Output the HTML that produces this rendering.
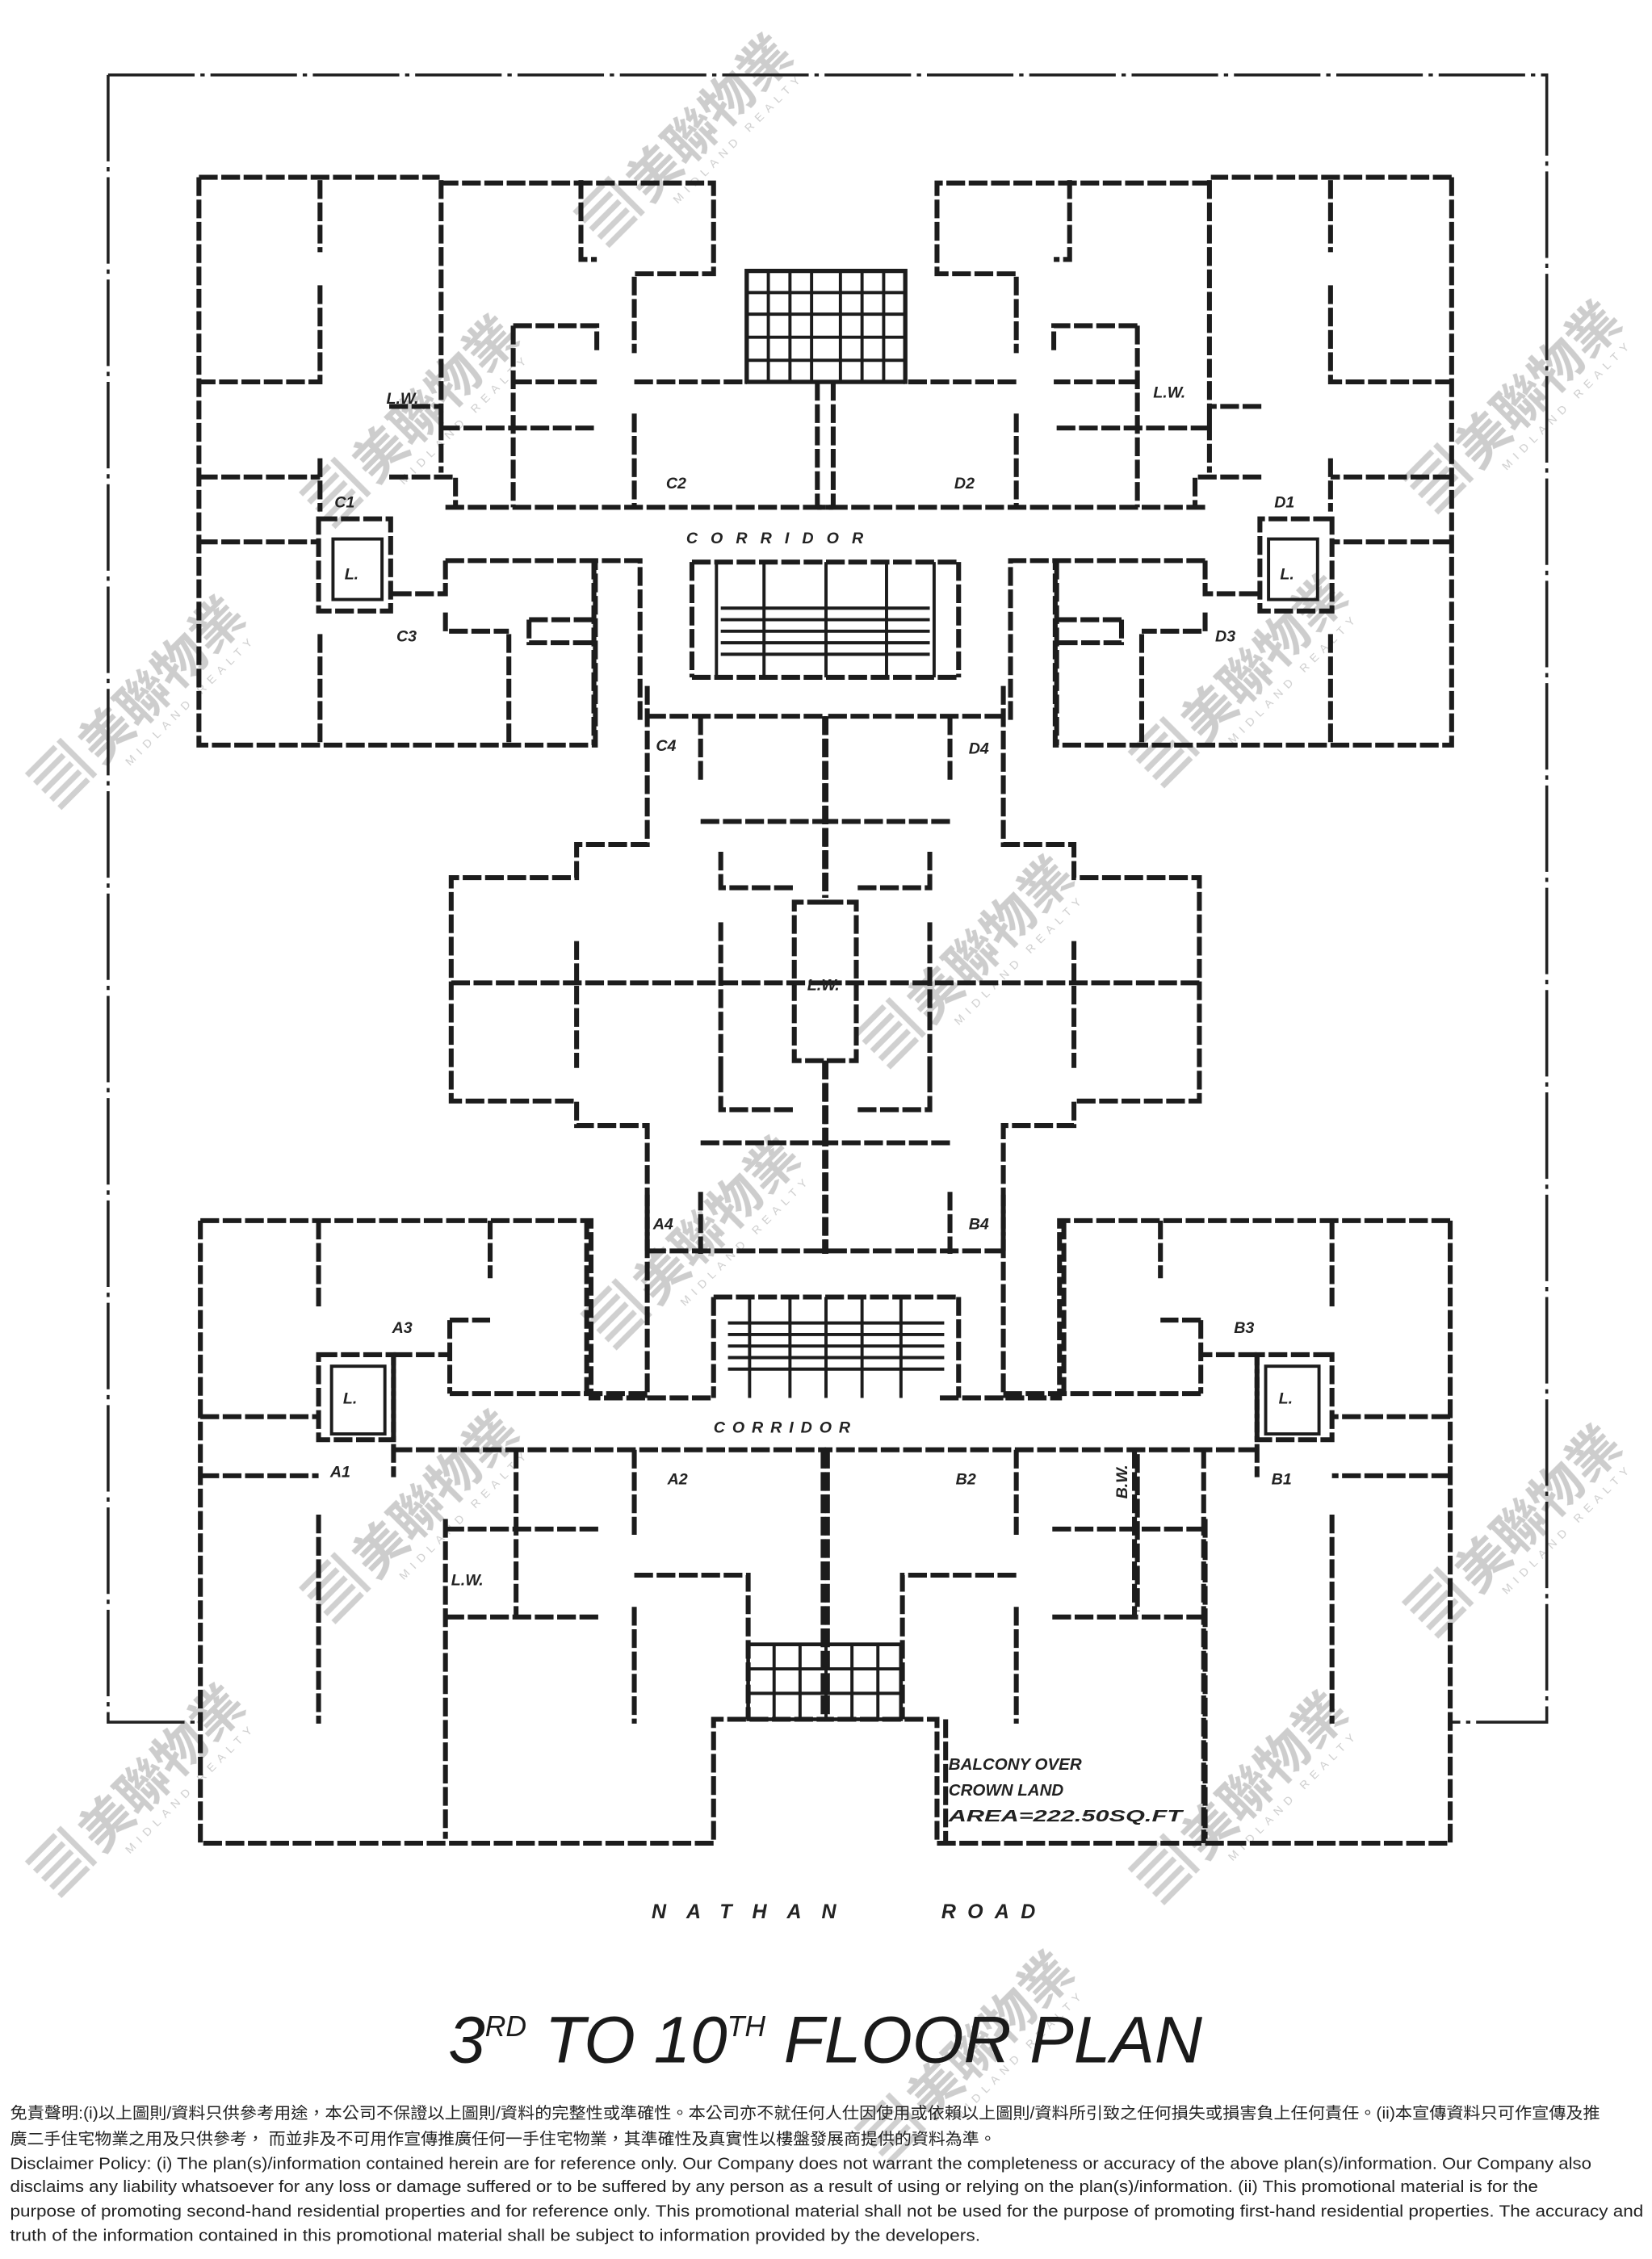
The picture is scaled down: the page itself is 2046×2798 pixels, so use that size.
<!DOCTYPE html>
<html><head><meta charset="utf-8"><style>
html,body{margin:0;padding:0;background:#fff;}
svg{display:block;}
.w{fill:none;stroke:#1c1c1c;stroke-width:3.4;stroke-dasharray:13 2.5;stroke-linecap:butt;}
.t{fill:none;stroke:#1c1c1c;stroke-width:2.2;}
.o{fill:none;stroke:#222;stroke-width:2;stroke-dasharray:60 4 3 4;}
.lb{font-family:"Liberation Sans",sans-serif;font-style:italic;font-weight:bold;fill:#222;font-size:11px;}
.wm{fill:#c4c4c4;font-family:"Liberation Sans","Noto Sans CJK TC",sans-serif;}
.dc{font-family:"Liberation Sans","Noto Sans CJK TC",sans-serif;fill:#222;font-size:11.2px;}
</style></head><body>
<svg width="2046" height="2798" viewBox="0 0 1146 1567.5" preserveAspectRatio="none" xmlns="http://www.w3.org/2000/svg">
<rect width="1146" height="1568" fill="#fff"/>

<!-- watermarks -->
<defs>
<g id="wm">
  <g fill="#c8c8c8">
    <rect x="-95" y="-22" width="28" height="4"/><rect x="-95" y="-14" width="28" height="4"/><rect x="-95" y="-6" width="28" height="4"/><rect x="-95" y="2" width="28" height="4"/><rect x="-95" y="10" width="28" height="4"/>
    <rect x="-64" y="-22" width="4" height="36"/>
  </g>
  <text class="wm" x="-54" y="12" font-size="36" font-weight="bold">美聯物業</text>
  <text class="wm" x="-40" y="26" font-size="8" letter-spacing="4">MIDLAND REALTY</text>
</g>
</defs>
<g opacity="0.85">
<use href="#wm" transform="translate(480,95) rotate(-45)"/>
<use href="#wm" transform="translate(290,290) rotate(-45)"/>
<use href="#wm" transform="translate(100,485) rotate(-45)"/>
<use href="#wm" transform="translate(1055,280) rotate(-45)"/>
<use href="#wm" transform="translate(865,470) rotate(-45)"/>
<use href="#wm" transform="translate(675,665) rotate(-45)"/>
<use href="#wm" transform="translate(485,860) rotate(-45)"/>
<use href="#wm" transform="translate(290,1050) rotate(-45)"/>
<use href="#wm" transform="translate(100,1240) rotate(-45)"/>
<use href="#wm" transform="translate(1055,1060) rotate(-45)"/>
<use href="#wm" transform="translate(865,1245) rotate(-45)"/>
<use href="#wm" transform="translate(675,1425) rotate(-45)"/>
</g>

<!-- outer boundary -->
<path class="o" d="M75 52H1073V1195H1006M75 52V1195H139"/>

<!-- top-left quadrant walls (mirrored for right) -->
<g id="tl">
<path class="w" d="M138 123H305M305 127H495V190H440V245M440 287V352M138 123V517H413V389M222 125V175M222 198V265H138M138 331H222M270 331H316V352M222 318V355M138 376H222M306 125V297M403 125V180H414M356 226H414V245M356 265H414M306 297H414M356 226V352M270 282H306V328M309 352H578M440 265H518M578 265V352M309 389H444V500M309 389V412H271M309 425V438H353M412 389V517M367 430H412M367 430V446H412M353 440V517M222 440V517"/>
<rect class="w" x="221" y="360" width="50" height="64"/>
<rect class="t" x="231" y="374" width="34" height="42"/>
</g>
<use href="#tl" transform="translate(1145,0) scale(-1,1)"/>

<!-- top stair grid -->
<g class="t">
<rect x="518" y="188" width="110" height="77" stroke-width="3"/>
<path d="M533 188V265M548 188V265M563 188V265M583 188V265M598 188V265M613 188V265M518 203H628M518 218H628M518 234H628M518 250H628"/>
</g>
<!-- central stair under corridor -->
<g class="t">
<path class="w" d="M480 390H665M480 390V470M665 390V470M480 470H665"/>
<path d="M497 390V470M530 390V470M573 390V470M615 390V470M648 390V470M500 422H645M500 430H645M500 438H645M500 446H645M500 454H645"/>
</g>

<!-- middle section -->
<g id="ml">
<path class="w" d="M449 476V586H400V609H313V764H400V781H449V870M449 497H573M486 497V543M486 570H573M313 682H573M400 653V741M500 591V616H551M500 640V745M573 626H551V736H573M500 745V770H551M486 793H573M486 827V870M573 497V623M573 736V870M449 868H573"/>
</g>
<use href="#ml" transform="translate(1145,0) scale(-1,1)"/>

<!-- lower-left quadrant -->
<g id="ll">
<path class="w" d="M139 847H410V970H449M449 829V970M139 847V1279H495V1193H573M221 847V909M139 983H221M139 1024H221M221 1051V1196M340 847V887M312 916H340M312 916V967M407 847V967M312 967H449M273 940H312M273 940V1025M273 1006H573M358 1006V1122M309 1122H416M309 1054V1276M309 1061H416M440 1006V1065M440 1093H519V1193M440 1115V1196M574 1006V1193M449 970H495"/>
<rect class="w" x="221" y="940" width="52" height="59"/>
<rect class="t" x="230" y="948" width="37" height="47"/>
</g>
<use href="#ll" transform="translate(1145,0) scale(-1,1)"/>
<path class="w" d="M835 1006V1279M789 1009V1118M656 1193V1279"/>

<!-- lower stair -->
<g class="t">
<path class="w" d="M495 900H665M495 900V970M665 900V970"/>
<path d="M520 900V970M548 900V970M573 900V970M598 900V970M625 900V970M505 918H655M505 926H655M505 934H655M505 942H655M505 950H655"/>
<rect x="519" y="1141" width="106" height="52" stroke-width="2.6"/>
<path d="M537 1141V1193M555 1141V1193M573 1141V1193M591 1141V1193M609 1141V1193M519 1158H625M519 1175H625"/>
</g>

<!-- labels -->
<g class="lb">
<text x="268" y="280">L.W.</text>
<text x="800" y="276">L.W.</text>
<text x="232" y="352">C1</text>
<text x="884" y="352">D1</text>
<text x="462" y="339">C2</text>
<text x="662" y="339">D2</text>
<text x="275" y="445">C3</text>
<text x="843" y="445">D3</text>
<text x="239" y="402">L.</text>
<text x="888" y="402">L.</text>
<text x="476" y="377" letter-spacing="9">CORRIDOR</text>
<text x="455" y="521">C4</text>
<text x="672" y="523">D4</text>
<text x="560" y="687">L.W.</text>
<text x="453" y="853">A4</text>
<text x="672" y="853">B4</text>
<text x="272" y="925">A3</text>
<text x="856" y="925">B3</text>
<text x="238" y="974">L.</text>
<text x="887" y="974">L.</text>
<text x="495" y="994" letter-spacing="5">CORRIDOR</text>
<text x="229" y="1025">A1</text>
<text x="463" y="1030">A2</text>
<text x="663" y="1030">B2</text>
<text x="882" y="1030">B1</text>
<text x="313" y="1100">L.W.</text>
<text x="0" y="0" transform="translate(782,1040) rotate(-90)">B.W.</text>
<text x="658" y="1228" font-size="11.5">BALCONY OVER</text>
<text x="658" y="1246" font-size="11.5">CROWN LAND</text>
<text x="658" y="1264" font-size="11.5" textLength="162" lengthAdjust="spacingAndGlyphs">AREA=222.50SQ.FT</text>
<text x="452" y="1331" font-size="14" letter-spacing="14">NATHAN</text>
<text x="653" y="1331" font-size="14" letter-spacing="8">ROAD</text>
</g>

<!-- title -->
<text x="311" y="1431" font-family="Liberation Sans,sans-serif" font-style="italic" font-size="46" fill="#1a1a1a" textLength="523" lengthAdjust="spacingAndGlyphs">3<tspan font-size="20" dy="-18">RD</tspan><tspan dy="18"> TO 10</tspan><tspan font-size="20" dy="-18">TH</tspan><tspan dy="18"> FLOOR  PLAN</tspan></text>

<!-- disclaimer -->
<text class="dc" x="7" y="1470" textLength="1103" lengthAdjust="spacingAndGlyphs">免責聲明:(i)以上圖則/資料只供參考用途，本公司不保證以上圖則/資料的完整性或準確性。本公司亦不就任何人仕因使用或依賴以上圖則/資料所引致之任何損失或損害負上任何責任。(ii)本宣傳資料只可作宣傳及推</text>
<text class="dc" x="7" y="1488" textLength="684" lengthAdjust="spacingAndGlyphs">廣二手住宅物業之用及只供參考， 而並非及不可用作宣傳推廣任何一手住宅物業，其準確性及真實性以樓盤發展商提供的資料為準。</text>
<text class="dc" x="7" y="1505" textLength="1097" lengthAdjust="spacingAndGlyphs">Disclaimer Policy: (i) The plan(s)/information contained herein are for reference only. Our Company does not warrant the completeness or accuracy of the above plan(s)/information. Our Company also</text>
<text class="dc" x="7" y="1521" textLength="1060" lengthAdjust="spacingAndGlyphs">disclaims any liability whatsoever for any loss or damage suffered or to be suffered by any person as a result of using or relying on the plan(s)/information. (ii) This promotional material is for the</text>
<text class="dc" x="7" y="1538" textLength="1133" lengthAdjust="spacingAndGlyphs">purpose of promoting second-hand residential properties and for reference only. This promotional material shall not be used for the purpose of promoting first-hand residential properties. The accuracy and</text>
<text class="dc" x="7" y="1555" textLength="673" lengthAdjust="spacingAndGlyphs">truth of the information contained in this promotional material shall be subject to information provided by the developers.</text>
</svg>
</body></html>
